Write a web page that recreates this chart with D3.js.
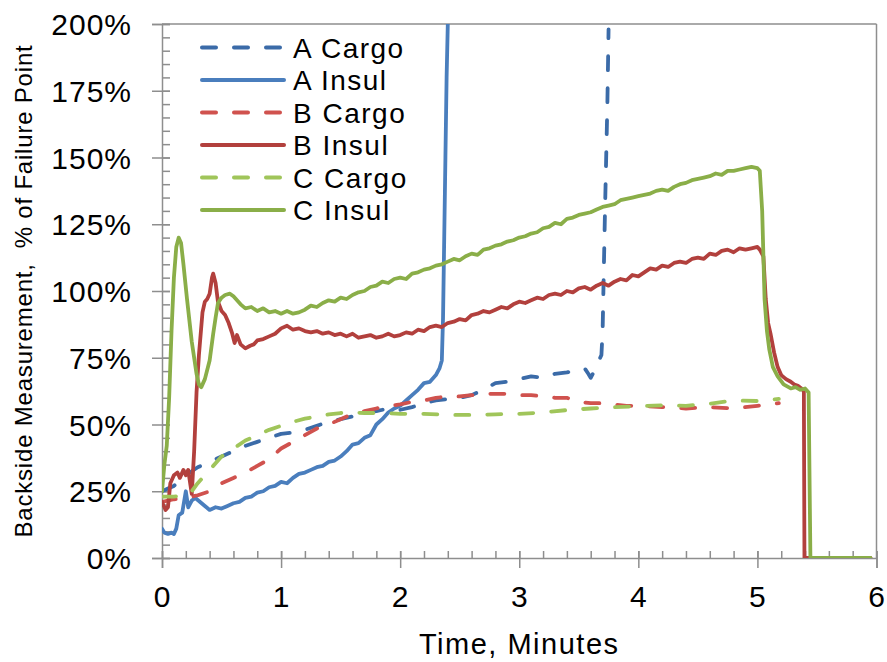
<!DOCTYPE html>
<html>
<head>
<meta charset="utf-8">
<script src="https://cdn.jsdelivr.net/npm/d3@7"></script>
<style>
  body { margin: 0; background: #fff; }
  text { font-family: "Liberation Sans", Arial, sans-serif; fill: #000; }
</style>
</head>
<body>
<svg id="chart" width="887" height="662"></svg>
<script>
// time (minutes), % of failure point
let aCargo = [[0,25],[0.05,26],[0.1,27],[0.15,29],[0.2,31],[0.25,32.5],[0.3,34],[0.4,36],[0.5,38],[0.6,40],[0.7,42],[0.8,43.5],[0.9,45],[1.0,46.5],[1.1,47],[1.2,48],[1.3,49.5],[1.4,51],[1.5,52],[1.6,53],[1.7,54.5],[1.8,55],[1.9,56],[2.0,55.5],[2.1,56.5],[2.2,58],[2.3,59],[2.4,59.5],[2.5,60],[2.6,61],[2.7,63],[2.8,65.5],[2.9,66],[3.0,67],[3.1,68],[3.2,67.5],[3.3,69],[3.4,69.5],[3.5,70.5],[3.55,71],[3.58,69],[3.6,67.5],[3.63,70],[3.66,73],[3.69,76],[3.7,85],[3.72,130],[3.74,170],[3.75,198]];

let aInsul = [[0,11],[0.02,9.5],[0.05,9],[0.08,9.5],[0.1,9],[0.12,11],[0.14,16],[0.17,17],[0.2,25],[0.22,19],[0.25,21.5],[0.28,22.5],[0.32,21],[0.36,19.5],[0.4,18],[0.45,19],[0.5,18.5],[0.55,19.5],[0.6,20.5],[0.65,21],[0.7,22.5],[0.75,23],[0.8,24.5],[0.85,25],[0.9,26.5],[0.95,27],[1.0,28.5],[1.05,28],[1.1,30],[1.15,31.5],[1.2,32],[1.25,33],[1.3,34],[1.35,34.5],[1.4,36],[1.45,36.5],[1.5,38],[1.55,40],[1.6,42.5],[1.65,43],[1.7,45],[1.75,46],[1.8,50],[1.85,52],[1.9,54.5],[1.95,56],[2.0,57],[2.05,59],[2.1,61],[2.15,63],[2.2,65.5],[2.25,66],[2.3,68.5],[2.33,71],[2.35,74],[2.36,90],[2.37,120],[2.38,150],[2.39,180],[2.4,200],[2.41,210]];

let bCargo = [[0,21],[0.1,22],[0.2,22.5],[0.3,23.5],[0.4,25],[0.5,28],[0.6,30],[0.7,32],[0.8,34.5],[0.9,37],[1.0,41],[1.1,43.5],[1.2,46],[1.3,48.5],[1.4,50],[1.5,52],[1.6,54],[1.7,55],[1.8,56],[1.9,57],[2.0,57.5],[2.1,58.5],[2.2,59],[2.3,60],[2.4,60.5],[2.5,60.5],[2.6,61],[2.7,61.5],[2.8,61.5],[2.9,61.5],[3.0,61],[3.1,61],[3.2,60.5],[3.3,60],[3.4,60],[3.5,58.5],[3.6,58],[3.7,58],[3.8,57.5],[3.9,57],[4.0,57],[4.2,56.5],[4.4,56],[4.6,56.5],[4.8,56],[5.0,57],[5.1,57.5],[5.18,58]];

let bInsul = [[0,21],[0.03,18],[0.05,19],[0.07,28],[0.1,31],[0.13,32],[0.15,30],[0.18,33],[0.2,31],[0.22,33],[0.24,27],[0.25,24],[0.27,40],[0.29,62],[0.31,76],[0.34,92],[0.36,96],[0.38,97],[0.4,99],[0.42,105],[0.43,106.5],[0.45,103],[0.47,96],[0.5,92.5],[0.53,91],[0.56,88],[0.59,84],[0.61,80.5],[0.63,83.5],[0.66,80],[0.7,78.5],[0.74,79.5],[0.77,80],[0.8,81.5],[0.85,82],[0.9,83],[0.95,84],[1.0,86],[1.05,87],[1.1,85.5],[1.15,86],[1.2,85],[1.25,84.5],[1.3,85],[1.35,84],[1.4,84.5],[1.45,83.5],[1.5,84],[1.55,83],[1.6,84],[1.65,82.5],[1.7,83],[1.75,83.5],[1.8,82.5],[1.85,83],[1.9,84],[1.95,83],[2.0,83.5],[2.05,84.5],[2.1,84],[2.15,85.5],[2.2,85],[2.25,86.5],[2.3,87],[2.35,86.5],[2.4,88],[2.45,88.5],[2.5,89.5],[2.55,89],[2.6,91],[2.65,91.5],[2.7,92.5],[2.75,92],[2.8,93],[2.85,94],[2.9,93.5],[2.95,95],[3.0,96],[3.05,95.5],[3.1,96.5],[3.15,97.5],[3.2,97],[3.25,98.5],[3.3,99],[3.35,98.5],[3.4,100],[3.45,99.5],[3.5,101],[3.55,101.5],[3.6,100.5],[3.65,102],[3.7,103],[3.75,102],[3.8,103.5],[3.85,104.5],[3.9,104],[3.95,106],[4.0,105.5],[4.05,107],[4.1,108.5],[4.15,108],[4.2,109.5],[4.25,109],[4.3,110.5],[4.35,111],[4.4,110.5],[4.45,112],[4.5,112.5],[4.55,112],[4.6,114],[4.65,113.5],[4.7,115],[4.75,115.5],[4.8,114.5],[4.85,116],[4.9,115.5],[4.95,116],[5.0,116.5],[5.02,115.5],[5.05,113],[5.07,97],[5.09,88],[5.11,84],[5.14,77],[5.17,71.5],[5.2,68.5],[5.24,67],[5.28,66],[5.31,65],[5.34,64.5],[5.37,63.5],[5.39,62.5],[5.395,0],[5.95,0]];

let cCargo = [[0,23],[0.1,23],[0.2,23.5],[0.25,25],[0.3,28],[0.4,33],[0.5,38],[0.6,41],[0.7,44],[0.8,46],[0.9,48],[1.0,49.5],[1.1,51],[1.2,52.2],[1.3,53],[1.4,53.8],[1.5,54.3],[1.6,54.5],[1.7,54.3],[1.8,54.3],[1.9,54.2],[2.0,54],[2.2,54],[2.4,53.6],[2.6,53.6],[2.8,53.8],[3.0,54],[3.2,54.5],[3.4,55.4],[3.6,56],[3.8,56.5],[4.0,56.8],[4.2,57.2],[4.4,57],[4.6,57.8],[4.8,59],[5.0,58.8],[5.18,59.6]];

let cInsul = [[0,25],[0.02,35],[0.04,42],[0.06,60],[0.08,85],[0.1,105],[0.12,116.5],[0.14,120],[0.16,118],[0.18,110],[0.21,97],[0.25,81],[0.29,69],[0.31,65],[0.33,64],[0.36,67],[0.4,74],[0.43,84],[0.45,90],[0.47,95.5],[0.5,97.5],[0.53,98.5],[0.57,99],[0.6,98],[0.63,96.5],[0.66,95],[0.7,93.5],[0.75,94],[0.8,92.5],[0.85,93.5],[0.9,92],[0.95,92.5],[1.0,91.5],[1.05,92.5],[1.1,91.5],[1.15,92],[1.2,93],[1.25,94.5],[1.3,94],[1.35,95.5],[1.4,96.5],[1.45,96],[1.5,97.5],[1.55,97],[1.6,98.5],[1.65,99.5],[1.7,100],[1.75,101.5],[1.8,102],[1.85,103.5],[1.9,103],[1.95,104.5],[2.0,105],[2.05,104.5],[2.1,106.5],[2.15,107],[2.2,108],[2.25,108.5],[2.3,109.5],[2.35,110],[2.4,111],[2.45,112],[2.5,111.5],[2.55,113],[2.6,114],[2.65,113.5],[2.7,115.5],[2.75,116],[2.8,117],[2.85,117.5],[2.9,118.5],[2.95,119],[3.0,120],[3.05,120.5],[3.1,121.5],[3.15,122],[3.2,123.5],[3.25,124],[3.3,125.5],[3.35,125],[3.4,127],[3.45,127.5],[3.5,128.5],[3.55,129],[3.6,129.5],[3.65,130.5],[3.7,131.5],[3.75,132],[3.8,132.5],[3.85,134],[3.9,134.5],[3.95,135],[4.0,135.5],[4.05,136],[4.1,136.5],[4.15,137.5],[4.2,138],[4.25,137.5],[4.3,139],[4.35,140],[4.4,140.5],[4.45,141.5],[4.5,142],[4.55,142.5],[4.6,143],[4.65,144],[4.7,143.5],[4.75,145],[4.8,145],[4.85,145.5],[4.9,146],[4.95,146.5],[5.0,146],[5.02,145],[5.04,130],[5.06,97],[5.08,85],[5.1,78],[5.13,71.5],[5.17,68],[5.22,65],[5.28,63.5],[5.32,64],[5.36,63],[5.4,63.5],[5.43,62],[5.445,0],[5.95,0]];

let seriesNames = ["A Cargo", "A Insul", "B Cargo", "B Insul", "C Cargo", "C Insul"];
let seriesValues = [aCargo, aInsul, bCargo, bInsul, cCargo, cInsul];
let seriesColors = ["#3b6ba8", "#4a7ebd", "#d0524e", "#b2403d", "#a0c55a", "#8aae48"];
let seriesDashed = [true, false, true, false, true, false];

let xTicks = [0, 1, 2, 3, 4, 5, 6];
let xMinorTicks = d3.range(0, 6.01, 0.2);
let yTicks = [0, 25, 50, 75, 100, 125, 150, 175, 200];
let yMinorTicks = d3.range(0, 201, 5);

let xTitle = "Time, Minutes";
let yTitle = "Backside Measurement,  % of Failure Point";

let svg = d3.select("#chart");
let plotLeft = 162, plotRight = 876.5, plotTop = 24, plotBottom = 558;
let axisColor = "#8e8e8e";

let x = d3.scaleLinear().domain([0, 6]).range([plotLeft, plotRight]);
let y = d3.scaleLinear().domain([0, 200]).range([plotBottom, plotTop]);

// plot border (top / right)
svg.append("line").attr("x1", plotLeft).attr("x2", plotRight).attr("y1", plotTop).attr("y2", plotTop)
  .style("stroke", axisColor).style("stroke-width", 1.5);
svg.append("line").attr("x1", plotRight).attr("x2", plotRight).attr("y1", plotTop).attr("y2", plotBottom)
  .style("stroke", axisColor).style("stroke-width", 1.5);

// y axis minor + major
let yMinor = svg.append("g").attr("transform", "translate(" + plotLeft + ",0)")
  .call(d3.axisLeft(y).tickValues(yMinorTicks).tickSize(-8).tickFormat(""));
yMinor.select(".domain").remove();

let yAxis = svg.append("g").attr("transform", "translate(" + plotLeft + ",0)")
  .call(d3.axisLeft(y).tickValues(yTicks).tickSize(10).tickPadding(20)
    .tickFormat(function (d) { return d + "%"; }));
yAxis.selectAll(".tick line").attr("x1", 8);

// x axis minor + major
let xMinor = svg.append("g").attr("transform", "translate(0," + plotBottom + ")")
  .call(d3.axisBottom(x).tickValues(xMinorTicks).tickSize(-7).tickFormat(""));
xMinor.select(".domain").remove();

let xAxis = svg.append("g").attr("transform", "translate(0," + plotBottom + ")")
  .call(d3.axisBottom(x).tickValues(xTicks).tickSize(10).tickPadding(20)
    .tickFormat(d3.format("d")));
xAxis.selectAll(".tick line").attr("y1", -7);

svg.selectAll(".domain, .tick line").style("stroke", axisColor).style("stroke-width", 1.5);
svg.selectAll(".tick text")
  .style("font-size", "30px")
  .style("letter-spacing", "1px")
  .style("font-family", "'Liberation Sans', Arial, sans-serif")
  .style("fill", "#000");
yAxis.selectAll(".tick text").attr("dy", "0.35em").attr("x", -30);
xAxis.selectAll(".tick text").attr("dy", null).attr("y", 49);

// titles
svg.append("text")
  .attr("x", (plotLeft + plotRight) / 2)
  .attr("y", 654)
  .attr("text-anchor", "middle")
  .style("font-size", "29px")
  .style("letter-spacing", "1.5px")
  .text(xTitle);

svg.append("text")
  .attr("transform", "translate(32," + (plotTop + plotBottom) / 2 + ") rotate(-90)")
  .attr("text-anchor", "middle")
  .style("font-size", "24px")
  .style("letter-spacing", "0.8px")
  .style("white-space", "pre")
  .text(yTitle);

// data lines
svg.append("clipPath").attr("id", "plotClip")
  .append("rect").attr("x", plotLeft).attr("y", plotTop)
  .attr("width", plotRight - plotLeft).attr("height", plotBottom - plotTop);

let line = d3.line()
  .x(function (d) { return x(d[0]); })
  .y(function (d) { return y(d[1]); });

let plot = svg.append("g").attr("clip-path", "url(#plotClip)");
for (let i = 0; i < seriesValues.length; i++) {
  plot.append("path")
    .datum(seriesValues[i])
    .attr("d", line)
    .style("fill", "none")
    .style("stroke", seriesColors[i])
    .style("stroke-width", 3.8)
    .style("stroke-linejoin", "round")
    .style("stroke-linecap", "round")
    .style("stroke-dasharray", seriesDashed[i] ? "14,18" : null);
}

// legend
let legend = svg.append("g");
for (let i = 0; i < seriesNames.length; i++) {
  let ly = 47.5 + i * 32.5;
  legend.append("line")
    .attr("x1", 202).attr("x2", 284).attr("y1", ly).attr("y2", ly)
    .style("stroke", seriesColors[i])
    .style("stroke-width", 4)
    .style("stroke-linecap", "round")
    .style("stroke-dasharray", seriesDashed[i] ? "14,18" : null);
  legend.append("text")
    .attr("x", 293).attr("y", ly)
    .attr("dy", "0.36em")
    .style("font-size", "28px")
    .style("letter-spacing", "1.5px")
    .text(seriesNames[i]);
}
</script>
</body>
</html>
